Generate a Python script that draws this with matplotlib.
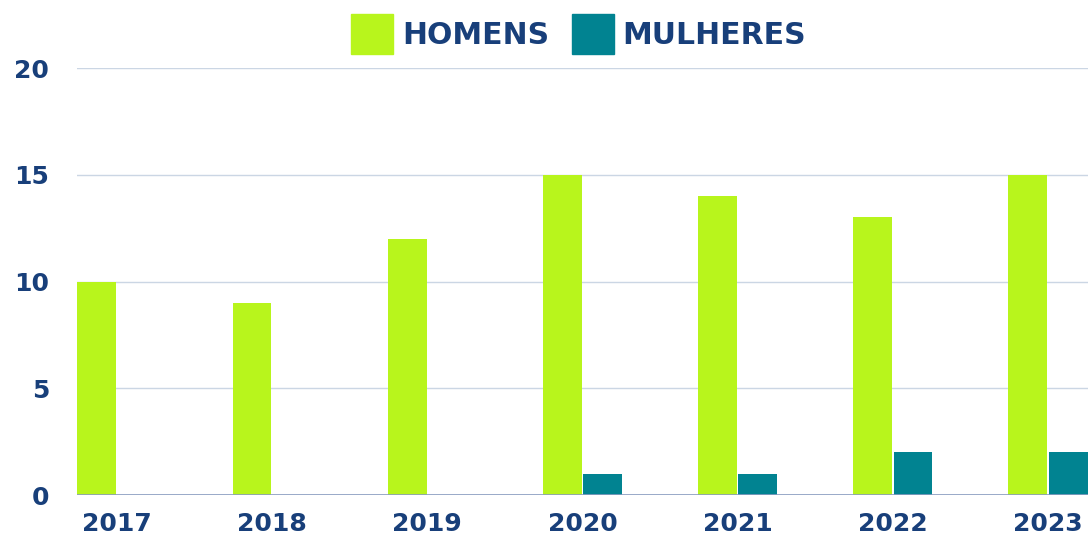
import matplotlib
matplotlib.use("Agg")
import matplotlib.pyplot as plt
from matplotlib.patches import Patch
import numpy as np

years = ["2017", "2018", "2019", "2020", "2021", "2022", "2023"]
homens = [10, 9, 12, 15, 14, 13, 15]
mulheres = [0, 0, 0, 1, 1, 2, 2]
yticks = [0, 5, 10, 15, 20]

GREEN = "#B8F51C"
TEAL = "#018391"
NAVY = "#183F7A"

plt.rcParams['font.family'] = ['DejaVu Sans']

fig = plt.figure(figsize=(10.88, 5.38), dpi=100)
ax = fig.add_axes([0.0708, 0.0799, 0.9292, 0.7937])

x = np.arange(len(years))
w = 0.25
ax.bar(x - 0.13, homens, width=w, color=GREEN, zorder=3)
ax.bar(x + 0.13, mulheres, width=w, color=TEAL, zorder=3)

ax.set_xlim(-0.258, len(years) - 1 + 0.258)
ax.set_ylim(0, 20)
ax.set_yticks(yticks)
ax.set_xticks(x)
ax.set_xticklabels(years)
ax.grid(axis='y', color="#CBD6E4", linewidth=1, zorder=0)
ax.axhline(0, color="#8A9CC0", linewidth=1.2, zorder=4)
for s in ax.spines.values():
    s.set_visible(False)
ax.tick_params(length=0, labelsize=18, labelcolor=NAVY)
ax.tick_params(axis='y', pad=20)
ax.tick_params(axis='x', pad=12.5)
for lab in ax.get_xticklabels() + ax.get_yticklabels():
    lab.set_fontweight('bold')

handles = [Patch(color=GREEN, label="HOMENS"), Patch(color=TEAL, label="MULHERES")]
leg = fig.legend(handles=handles, loc='center', bbox_to_anchor=(0.532, 0.937), ncol=2,
                 frameon=False, fontsize=21.5, handlelength=1.4, handleheight=1.72,
                 handletextpad=0.3, columnspacing=0.75)
for t in leg.get_texts():
    t.set_color(NAVY)
    t.set_fontweight('bold')

fig.savefig("out.png", dpi=100)
